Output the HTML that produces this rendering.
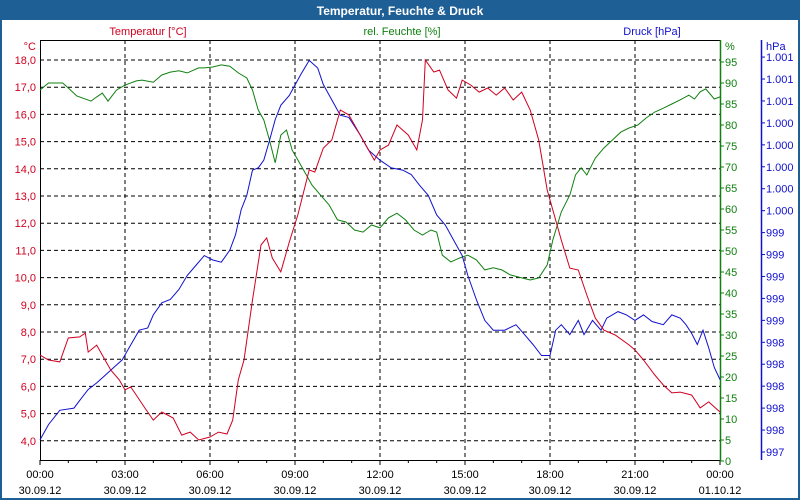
<!DOCTYPE html>
<html><head><meta charset="utf-8"><style>
body{margin:0;background:#fff}
svg{display:block;font-family:"Liberation Sans",Tahoma,sans-serif}
</style></head><body>
<svg id="c" width="800" height="500">
<rect x="0" y="0" width="800" height="500" fill="#1e5f96"/>
<rect x="2" y="20" width="796" height="478" fill="#fff"/>
<text x="400" y="15" text-anchor="middle" font-size="12" font-weight="bold" fill="#fff">Temperatur, Feuchte &amp; Druck</text>
<text x="148" y="35" text-anchor="middle" font-size="11" fill="#d00020">Temperatur [°C]</text>
<text x="402" y="35" text-anchor="middle" font-size="11" fill="#108010">rel. Feuchte [%]</text>
<text x="652" y="35" text-anchor="middle" font-size="11" fill="#1010d0">Druck [hPa]</text>
<g id="g"></g>
</svg>
<script>
const hours=[0,0.3,0.7,1,1.4,1.6,1.7,2,2.2,2.5,2.8,3,3.2,3.4,3.7,4,4.3,4.7,5,5.3,5.6,6,6.3,6.6,6.8,7,7.2,7.5,7.8,8,8.2,8.5,8.8,9.1,9.5,9.7,10,10.3,10.6,10.9,11.2,11.5,11.8,12,12.3,12.6,13,13.3,13.5,13.6,13.9,14.1,14.4,14.7,14.9,15.2,15.5,15.8,16.1,16.4,16.7,17,17.3,17.6,17.9,18.1,18.4,18.7,19,19.3,19.6,19.9,20.3,20.8,21,21.3,21.7,22,22.3,22.6,23,23.3,23.6,24];
const temperature=[7.15,6.97,6.9,7.78,7.82,7.96,7.26,7.52,7.15,6.6,6.24,5.87,5.98,5.68,5.21,4.76,5.06,4.84,4.21,4.32,4.03,4.14,4.32,4.25,4.76,6.24,6.97,9.18,11.2,11.46,10.72,10.21,11.31,12.3,13.96,13.88,14.76,15.06,16.16,15.98,15.43,14.87,14.32,14.69,14.87,15.61,15.24,14.69,15.8,18.0,17.56,17.63,16.9,16.6,17.26,17.08,16.82,16.97,16.71,16.97,16.53,16.82,16.16,15.06,13.22,12.49,11.38,10.35,10.28,9.36,8.51,8.07,7.89,7.52,7.34,6.97,6.42,6.05,5.76,5.79,5.68,5.21,5.43,5.06];
const humHours=[0,0.3,0.8,1,1.3,1.8,2,2.2,2.4,2.7,3,3.4,3.6,4,4.3,4.6,4.9,5.2,5.6,5.8,6.1,6.4,6.7,7,7.3,7.5,7.7,7.9,8.1,8.3,8.5,8.7,8.9,9.1,9.3,9.6,9.9,10.2,10.5,10.8,11.1,11.4,11.7,12,12.3,12.6,12.9,13.2,13.5,13.8,14,14.2,14.5,14.8,15.1,15.4,15.7,16,16.3,16.6,17,17.3,17.6,17.9,18.1,18.4,18.7,18.9,19.1,19.3,19.6,19.9,20.2,20.5,20.8,21.1,21.4,21.7,22,22.3,22.6,22.9,23.1,23.3,23.5,23.8,24];
const humidity=[88.3,90,90,88.8,86.9,85.7,86.7,87.6,85.7,88.3,89.5,90.5,90.7,90.2,91.9,92.6,92.9,92.4,93.6,93.6,93.8,94.3,94,92.4,91.2,88.3,83.6,81.2,76.4,71,77.6,78.8,74,71.7,69.3,65.7,63.3,61,57.4,56.9,55,54.5,56.2,55.5,57.9,59,57.4,55,53.8,55,54.5,49,47.4,48.3,49,47.9,45.5,46,45.5,44.3,43.6,43.1,43.6,46.7,52.6,59.3,63.3,68.1,69.8,68.1,72.1,74.5,76.4,78.3,79.3,80,81.7,83.1,84,85,86,87.1,86.2,87.9,88.6,86.2,86.7];
const presHours=[0,0.3,0.7,1.2,1.4,1.7,2,2.3,2.6,2.9,3.1,3.3,3.5,3.8,4,4.3,4.6,4.9,5.2,5.5,5.8,6.1,6.4,6.7,6.9,7.1,7.3,7.5,7.7,7.9,8.1,8.3,8.5,8.8,9.2,9.5,9.8,10,10.3,10.6,10.9,11.3,11.6,12,12.4,12.8,13.1,13.4,13.7,14,14.3,14.6,14.9,15.1,15.4,15.7,16,16.4,16.8,17.1,17.4,17.7,18,18.2,18.4,18.7,19,19.2,19.5,19.8,20,20.4,20.7,21,21.3,21.6,22,22.3,22.6,22.8,23,23.2,23.4,23.6,23.8,24];
const pressure=[997.31,997.45,997.58,997.6,997.67,997.77,997.83,997.9,997.97,998.04,998.13,998.22,998.31,998.33,998.45,998.56,998.59,998.68,998.81,998.9,998.99,998.95,998.93,999.04,999.18,999.41,999.54,999.77,999.79,999.86,1000.04,1000.23,1000.36,1000.45,1000.64,1000.77,1000.7,1000.55,1000.41,1000.27,1000.25,1000.09,999.95,999.86,999.79,999.77,999.73,999.63,999.54,999.36,999.27,999.13,998.99,998.81,998.59,998.4,998.31,998.31,998.36,998.27,998.18,998.08,998.08,998.31,998.36,998.27,998.4,998.27,998.4,998.31,998.42,998.48,998.45,998.4,998.45,998.39,998.36,998.45,998.42,998.36,998.28,998.18,998.31,998.15,997.97,997.86];
const tempTicks=["4,0","5,0","6,0","7,0","8,0","9,0","10,0","11,0","12,0","13,0","14,0","15,0","16,0","17,0","18,0"];
const humTicks=[0,5,10,15,20,25,30,35,40,45,50,55,60,65,70,75,80,85,90,95];
const presTicks=["997","998","998","998","998","998","999","999","999","999","999","1.000","1.000","1.000","1.000","1.000","1.001","1.001","1.001"];
const timeTicks=["00:00","03:00","06:00","09:00","12:00","15:00","18:00","21:00","00:00"];
const dateTicks=["30.09.12","30.09.12","30.09.12","30.09.12","30.09.12","30.09.12","30.09.12","30.09.12","01.10.12"];

const X=h=>40+h*680/24;
const YT=t=>60+(18-t)*27.2;
const YH=v=>461-v*4.2;
const YP=p=>452-(p-997.2)/0.2*21.94;
const NS="http://www.w3.org/2000/svg";
const g=document.getElementById('g');
function mk(tag,at,txt){const e=document.createElementNS(NS,tag);for(const k in at)e.setAttribute(k,at[k]);if(txt!==undefined)e.textContent=txt;g.appendChild(e);return e;}
// horizontal grid
tempTicks.forEach((lab,i)=>{const v=4+i;const y=YT(v);
 const l=mk('line',{x1:40,x2:720,y1:y,y2:y,stroke:'#000','stroke-dasharray':'4,3','stroke-width':1});
 
 
 const t=mk('text',{x:36,y:y+4,'text-anchor':'end','font-size':11,fill:'#d00020'},lab);
 
 
});
const cu=mk('text',{x:36,y:50,'text-anchor':'end','font-size':11,fill:'#d00020'},'°C');


// vertical grid
timeTicks.forEach((lab,i)=>{const x=X(i*3);
 if(i>0&&i<8){const l=mk('line',{x1:x,x2:x,y1:40,y2:460,stroke:'#000','stroke-dasharray':'4,3'});
 
 }
 const t=mk('text',{x:x,y:478,'text-anchor':'middle','font-size':11,fill:'#000'},lab);
 
 
 const d=mk('text',{x:x,y:494,'text-anchor':'middle','font-size':11,fill:'#000'},dateTicks[i]);
 
 
});
for(let h=0;h<=24;h++){const tk=mk('line',{x1:X(h),x2:X(h),y1:460,y2:h%3?463:465,stroke:'#000'});
 
 }
const frm=mk('path',{d:'M40.5,460.5V40.5H720.5M40.5,460.5H720',stroke:'#000',fill:'none'});


// humidity axis
const ha=mk('line',{x1:720.5,x2:720.5,y1:40,y2:461,stroke:'#108010','stroke-width':1.5});


humTicks.forEach(v=>{const y=YH(v);
 const tk=mk('line',{x1:720,x2:724,y1:y,y2:y,stroke:'#108010'});
 
 
 const t=mk('text',{x:725,y:y+4,'font-size':11,fill:'#108010'},String(v));
 
 });
const hu=mk('text',{x:725,y:50,'font-size':11,fill:'#108010'},'%');


// pressure axis
const pa=mk('line',{x1:761.5,x2:761.5,y1:40,y2:460,stroke:'#1010d0','stroke-width':1.5});


presTicks.forEach((lab,i)=>{const y=YP(997.2+i*0.2);
 const tk=mk('line',{x1:761,x2:765,y1:y,y2:y,stroke:'#1010d0'});
 
 
 const t=mk('text',{x:766,y:y+4,'font-size':11,fill:'#1010d0'},lab);
 
 });
const pu=mk('text',{x:766,y:50,'font-size':11,fill:'#1010d0'},'hPa');


// series
function line(xs,ys,fy,col,name){const d=xs.map((h,i)=>(i?'L':'M')+X(h).toFixed(1)+','+fy(ys[i]).toFixed(1)).join('');
 const p=mk('path',{d:d,fill:'none',stroke:col,'stroke-width':1});
 
 }
line(humHours,humidity,YH,'#108010','humidity-line');
line(presHours,pressure,YP,'#1010d0','pressure-line');
line(hours,temperature,YT,'#d00020','temperature-line');
</script>
</body></html>
